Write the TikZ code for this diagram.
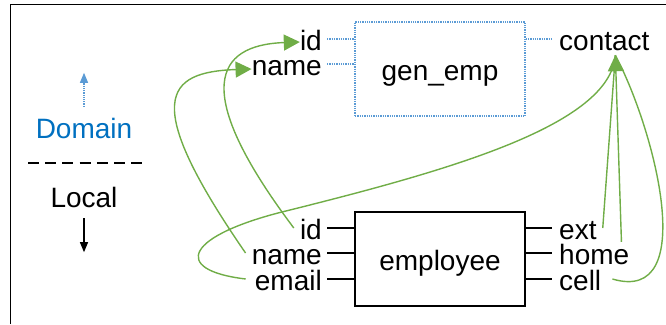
\documentclass[tikz,border=0pt]{standalone}
\usepackage{fontspec}
\setmainfont{Liberation Sans}
\usetikzlibrary{arrows.meta,positioning}
\definecolor{linkgreen}{HTML}{70AD47}
\definecolor{domblue}{HTML}{0070C0}
\definecolor{dotblue}{HTML}{5B9BD5}

\begin{document}
\begin{tikzpicture}[
    x=1pt, y=-1pt,
    attr/.style={inner sep=0pt, text height=22pt, text depth=0pt,
                 font=\fontsize{28}{30}\selectfont},
    entity/.style={attr, rectangle, draw, line width=1.5pt,
                   minimum width=170pt, minimum height=94pt},
    domainbox/.style={attr, rectangle, draw=dotblue, densely dotted, line width=1.3pt,
                      minimum width=170pt, minimum height=94pt},
    stub/.style={line width=1.5pt},
    dotstub/.style={draw=dotblue, densely dotted, line width=1.3pt},
    link/.style={draw=linkgreen, line width=1.4pt},
    linkarrow/.style={link, -{Triangle[length=16pt,width=16pt]}}
]
\useasboundingbox (0,0) rectangle (666,324);
\draw[line width=1.5pt] (10.5,324) -- (10.5,4.5) -- (666,4.5);

% legend
\node[attr, text=domblue] (domain) at (84,127) {Domain};
\node[attr] (local) at (84,196) {Local};
\draw[dotblue, densely dotted, line width=1.2pt, -{Triangle[length=10pt,width=8pt]}]
    ([yshift=9pt]domain.north) -- ++(0,-34);
\draw[line width=1.2pt, dash pattern=on 11pt off 6.2pt] (28,163) -- (142,163);
\draw[line width=1.2pt, -{Triangle[length=10pt,width=8pt]}]
    ([yshift=-11pt]local.south) -- ++(0,34);

% domain entity
\node[domainbox] (genemp) at (440,69) {gen\_emp};
\node[attr, anchor=east] (idT) at (322,39) {id};
\node[attr, anchor=east] (nameT) at (322,64) {name};
\node[attr, anchor=west] (contact) at (559,39) {contact};
\draw[dotstub] ([xshift=5pt]idT.east) -- (idT.east -| genemp.west);
\draw[dotstub] ([xshift=5pt]nameT.east) -- (nameT.east -| genemp.west);
\draw[dotstub] (genemp.east |- contact.west) -- ([xshift=-7pt]contact.west);

% local entity
\node[entity] (employee) at (440,259) {employee};
\node[attr, anchor=east] (idB) at (322,228) {id};
\node[attr, anchor=east] (nameB) at (322,253) {name};
\node[attr, anchor=east] (emailB) at (322,279) {email};
\node[attr, anchor=west] (ext) at (559,228) {ext};
\node[attr, anchor=west] (home) at (559,253) {home};
\node[attr, anchor=west] (cell) at (559,279) {cell};
\foreach \a in {idB,nameB,emailB}
    \draw[stub] ([xshift=5pt]\a.east) -- (\a.east -| employee.west);
\foreach \a in {ext,home,cell}
    \draw[stub] (employee.east |- \a.west) -- ([xshift=-7pt]\a.west);

% mappings
\coordinate (cTip) at ([xshift=11pt,yshift=-5pt]contact.south);
\draw[linkarrow] ([xshift=-6pt]idB.west) .. controls (190,90) and (215,45) .. ([yshift=-3pt]idT.west);
\draw[linkarrow] ([xshift=-6pt]nameB.west) .. controls (140,100) and (165,72) .. ([yshift=-5pt]nameT.west);
\draw[link] ([xshift=-9pt]emailB.west) .. controls (170,270) and (185,235) .. (290,210)
    .. controls (450,170) and (610,125) .. (cTip);
\draw[link] ([xshift=6pt]ext.east) -- (cTip);
\draw[link] ([xshift=11pt]cell.east) .. controls (700,305) and (655,130) .. (cTip);
\draw[linkarrow] ([xshift=-8pt]home.north east) -- (cTip);
\end{tikzpicture}
\end{document}
